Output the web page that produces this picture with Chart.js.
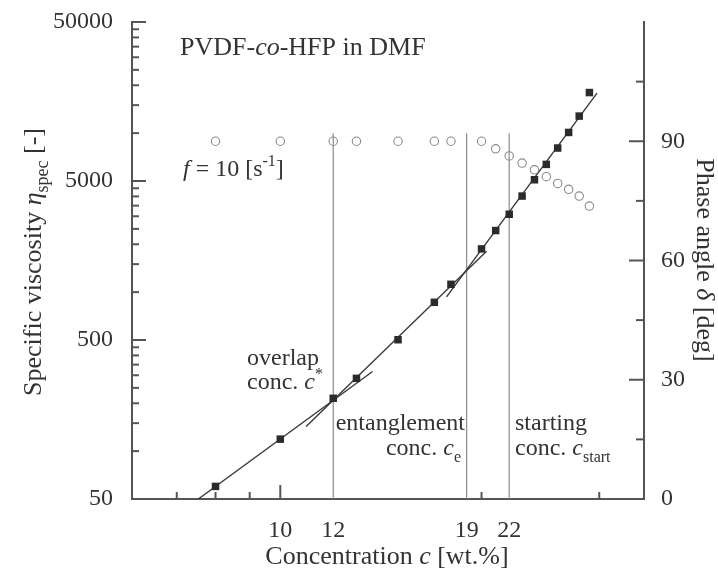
<!DOCTYPE html>
<html>
<head>
<meta charset="utf-8">
<script src="https://cdn.jsdelivr.net/npm/chart.js@4.4.1/dist/chart.umd.min.js"></script>
<style>
  html, body { margin: 0; padding: 0; background: #fff; }
  #wrap { width: 718px; height: 571px; }
</style>
</head>
<body>
<div id="wrap"><canvas id="viscosityChart" width="718" height="571"></canvas></div>
<script>
// measured points (c in wt.%)
const concentration = [8, 10, 12, 13, 15, 17, 18, 20, 21, 22, 23, 24, 25, 26, 27, 28, 29];
const specificViscosity = [60, 119, 215, 287, 502, 863, 1120, 1870, 2440, 3090, 4020, 5090, 6360, 8060, 10100, 12800, 18000];
const phaseAngle = [90, 90, 90, 90, 90, 90, 90, 90, 88.1, 86.3, 84.5, 82.8, 81.1, 79.4, 77.9, 76.2, 73.7];

// fit lines, end points as [c, eta]
const diluteFit = [[7.54, 50], [13.74, 317]];
const semiDiluteFit = [[10.93, 143], [20.35, 1808]];
const concentratedFit = [[17.73, 933], [29.77, 17830]];

// c*, ce, cstart markers
const markerConc = [12, 19, 22];
const markerTop = 92;

const xTickLabels = [10, 12, 19, 22];
const xMajorTicks = [10];
const xMinorTicks = [7, 8, 9, 20, 30];
const yTickLabels = [50, 500, 5000, 50000];
const yDecades = [50, 500, 5000];
const yMinorMantissa = [2, 3, 4, 5, 6, 7, 8, 9];
const y2TickLabels = [0, 30, 60, 90];
const y2MinorTicks = [15, 45, 75, 105];

const serif = '"Liberation Serif", "Times New Roman", serif';
const textColor = '#333';
const axisColor = '#555';

Chart.defaults.font.family = serif;
Chart.defaults.color = textColor;

const pairs = (xs, ys) => xs.map((x, i) => ({ x: x, y: ys[i] }));
const seg = arr => arr.map(p => ({ x: p[0], y: p[1] }));

function richText(ctx, parts, x, y, size, align) {
  const fontOf = p => (p.it ? 'italic ' : '') + ((p.sub || p.sup) ? Math.round(size * 0.68) : size) + 'px ' + serif;
  let w = 0;
  parts.forEach(p => { ctx.font = fontOf(p); w += ctx.measureText(p.t).width; });
  let cx = align === 'center' ? x - w / 2 : align === 'right' ? x - w : x;
  parts.forEach(p => {
    ctx.font = fontOf(p);
    const dy = p.sub ? size * 0.28 : p.sup ? -size * 0.4 : 0;
    ctx.fillText(p.t, cx, y + dy);
    cx += ctx.measureText(p.t).width;
  });
}

const decor = {
  id: 'decor',
  afterDraw(chart) {
    const { ctx, chartArea: a, scales } = chart;
    ctx.save();
    ctx.strokeStyle = axisColor;
    ctx.lineWidth = 2;
    const tick = (x1, y1, x2, y2) => { ctx.beginPath(); ctx.moveTo(x1, y1); ctx.lineTo(x2, y2); ctx.stroke(); };

    // inward tick marks
    xMajorTicks.forEach(v => { const p = scales.x.getPixelForValue(v); tick(p, a.bottom, p, a.bottom - 14); });
    xMinorTicks.forEach(v => { const p = scales.x.getPixelForValue(v); tick(p, a.bottom, p, a.bottom - 7); });
    yTickLabels.forEach(v => { const p = scales.y.getPixelForValue(v); tick(a.left, p, a.left + 14, p); });
    yDecades.forEach(d => yMinorMantissa.forEach(m => {
      const p = scales.y.getPixelForValue(d * m); tick(a.left, p, a.left + 7, p);
    }));
    y2TickLabels.forEach(v => { const p = scales.y2.getPixelForValue(v); tick(a.right, p, a.right - 15, p); });
    y2MinorTicks.forEach(v => { const p = scales.y2.getPixelForValue(v); tick(a.right, p, a.right - 8, p); });

    ctx.fillStyle = textColor;
    ctx.textBaseline = 'alphabetic';
    ctx.textAlign = 'left';

    richText(ctx, [{ t: 'PVDF-' }, { t: 'co', it: true }, { t: '-HFP in DMF' }], 180, 55, 26, 'left');
    richText(ctx, [{ t: 'f', it: true }, { t: ' = 10 [s' }, { t: '-1', sup: true }, { t: ']' }], 183, 176, 24, 'left');

    richText(ctx, [{ t: 'overlap' }], 247, 365, 24, 'left');
    richText(ctx, [{ t: 'conc. ' }, { t: 'c', it: true }, { t: '*', sup: true }], 247, 389, 24, 'left');
    richText(ctx, [{ t: 'entanglement' }], 465, 430, 24, 'right');
    richText(ctx, [{ t: 'conc. ' }, { t: 'c', it: true }, { t: 'e', sub: true }], 461, 455, 24, 'right');
    richText(ctx, [{ t: 'starting' }], 515, 430, 24, 'left');
    richText(ctx, [{ t: 'conc. ' }, { t: 'c', it: true }, { t: 'start', sub: true }], 515, 455, 24, 'left');

    // axis titles
    richText(ctx, [{ t: 'Concentration ' }, { t: 'c', it: true }, { t: ' [wt.%]' }], 387, 564, 26, 'center');

    ctx.save();
    ctx.translate(41, 262);
    ctx.rotate(-Math.PI / 2);
    richText(ctx, [{ t: 'Specific viscosity ' }, { t: 'η', it: true }, { t: 'spec', sub: true }, { t: ' [-]' }], 0, 0, 26, 'center');
    ctx.restore();

    ctx.save();
    ctx.translate(697, 260);
    ctx.rotate(Math.PI / 2);
    richText(ctx, [{ t: 'Phase angle ' }, { t: 'δ', it: true }, { t: ' [deg]' }], 0, 0, 26, 'center');
    ctx.restore();

    ctx.restore();
  }
};

const fitStyle = { type: 'line', showLine: true, borderColor: '#3a3a3a', borderWidth: 1.4, pointRadius: 0, fill: false, yAxisID: 'y', order: 2 };
const markerStyle = { type: 'line', showLine: true, borderColor: '#8c8c8c', borderWidth: 1.2, pointRadius: 0, fill: false, yAxisID: 'y2', order: 3 };

// keep the plot box fixed, no extra room for overflowing labels
const noPad = s => { s.paddingTop = 0; s.paddingBottom = 0; s.paddingLeft = 0; s.paddingRight = 0; };

const ctx = document.getElementById('viscosityChart').getContext('2d');
const chart = new Chart(ctx, {
  type: 'scatter',
  data: {
    datasets: [
      {
        label: 'eta_spec',
        data: pairs(concentration, specificViscosity),
        yAxisID: 'y',
        pointStyle: 'rect',
        pointRadius: 5.3,
        backgroundColor: '#2b2b2b',
        borderColor: '#2b2b2b',
        borderWidth: 0,
        order: 0
      },
      {
        label: 'phase angle',
        data: pairs(concentration, phaseAngle),
        yAxisID: 'y2',
        pointStyle: 'circle',
        pointRadius: 4.2,
        backgroundColor: 'rgba(0,0,0,0)',
        borderColor: '#8a8a8a',
        borderWidth: 1.1,
        order: 1
      },
      Object.assign({ label: 'dilute', data: seg(diluteFit) }, fitStyle),
      Object.assign({ label: 'semi-dilute', data: seg(semiDiluteFit) }, fitStyle),
      Object.assign({ label: 'concentrated', data: seg(concentratedFit) }, fitStyle),
      ...markerConc.map(c => Object.assign({ label: 'c' + c, data: [{ x: c, y: 0 }, { x: c, y: markerTop }] }, markerStyle))
    ]
  },
  options: {
    responsive: false,
    animation: false,
    layout: { padding: { top: 22, left: 0, right: 0, bottom: 0 } },
    plugins: { legend: { display: false }, tooltip: { enabled: false } },
    scales: {
      x: {
        type: 'logarithmic',
        position: 'bottom',
        min: 6,
        max: 35,
        afterBuildTicks: s => { s.ticks = xTickLabels.map(v => ({ value: v })); },
        afterFit: s => { s.height = 72; noPad(s); },
        ticks: { autoSkip: false, maxRotation: 0, padding: 17, color: textColor, font: { size: 24 }, callback: v => String(v) },
        grid: { display: true, drawOnChartArea: false, drawTicks: false },
        border: { display: true, color: axisColor, width: 2 }
      },
      y: {
        type: 'logarithmic',
        position: 'left',
        min: 50,
        max: 50000,
        afterBuildTicks: s => { s.ticks = yTickLabels.map(v => ({ value: v })); },
        afterFit: s => { s.width = 132; noPad(s); },
        ticks: { autoSkip: false, padding: 19, color: textColor, font: { size: 24 }, callback: v => String(v) },
        grid: { display: true, drawOnChartArea: false, drawTicks: false },
        border: { display: true, color: axisColor, width: 2 }
      },
      y2: {
        type: 'linear',
        position: 'right',
        min: 0,
        max: 120,
        afterBuildTicks: s => { s.ticks = y2TickLabels.map(v => ({ value: v })); },
        afterFit: s => { s.width = 74; noPad(s); },
        ticks: { autoSkip: false, padding: 17, color: textColor, font: { size: 24 } },
        grid: { display: true, drawOnChartArea: false, drawTicks: false },
        border: { display: true, color: axisColor, width: 2 }
      }
    }
  },
  plugins: [decor]
});
</script>
</body>
</html>
